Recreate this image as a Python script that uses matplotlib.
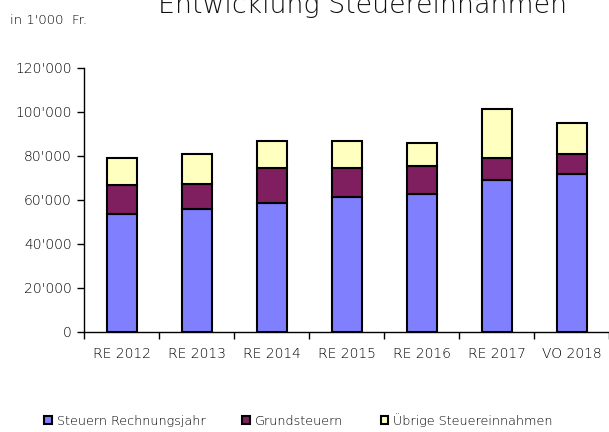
import matplotlib
matplotlib.use("Agg")
import matplotlib.pyplot as plt
from matplotlib.ticker import FuncFormatter
import numpy as np

categories = ["RE 2012", "RE 2013", "RE 2014", "RE 2015", "RE 2016", "RE 2017", "VO 2018"]
steuern_rj = [53600, 55900, 58800, 61400, 62700, 69200, 71800]
grundsteuern = [13100, 11500, 15700, 13100, 12700, 10000, 9100]
uebrige = [12300, 13500, 12300, 12300, 10600, 22100, 14000]
series_names = ["Steuern Rechnungsjahr", "Grundsteuern", "Übrige Steuereinnahmen"]
colors = ["#8080FF", "#7F1F5F", "#FFFFC0"]

plt.rcParams['font.family'] = ['DejaVu Sans']
plt.rcParams['font.weight'] = 'light'
TXT = "#000000"

fig = plt.figure(figsize=(6.09, 4.32), dpi=100)
ax = fig.add_axes([0.138, 0.2315, 0.862, 0.6115])

x = np.arange(len(categories))
bottom = np.zeros(len(categories))
handles = []
for vals, col, name in zip([steuern_rj, grundsteuern, uebrige], colors, series_names):
    h = ax.bar(x, vals, width=0.4, bottom=bottom, color=col, edgecolor="black",
               linewidth=1.5, label=name)
    handles.append(h)
    bottom += np.array(vals)

ax.set_xlim(-0.5, len(categories) - 0.5)
ax.set_ylim(0, 120000)
ax.set_yticks(np.arange(0, 120001, 20000))
ax.yaxis.set_major_formatter(FuncFormatter(lambda v, p: "0" if v == 0 else f"{int(v/1000)}'000"))
ax.set_xticks(x)
ax.set_xticklabels(categories)
ax.set_xticks(np.arange(-0.5, len(categories), 1), minor=True)
ax.tick_params(axis='x', which='major', length=0, pad=11, labelsize=10, labelcolor=TXT)
ax.tick_params(axis='x', which='minor', length=5, width=1, direction='out')
ax.tick_params(axis='y', length=5, width=1, direction='out', labelsize=10, pad=4, labelcolor=TXT)
for s in ["top", "right"]:
    ax.spines[s].set_visible(False)
ax.spines["left"].set_linewidth(1)
ax.spines["bottom"].set_linewidth(1)

fig.text(0.596, 1 - 13 / 432, "Entwicklung Steuereinnahmen", ha="center", va="baseline",
         fontsize=19.3, color="#111111")
fig.text(0.016, 0.954, "in 1'000  Fr.", ha="left", va="center", fontsize=9.5, color=TXT)

leg = fig.legend(handles=handles, labels=series_names, loc="center left", ncol=3,
                 bbox_to_anchor=(44 / 609, 1 - 420 / 432), frameon=False, fontsize=9.2,
                 handlelength=0.6, handleheight=0.6, handletextpad=0.4,
                 columnspacing=2.9, borderpad=0, borderaxespad=0)
for t in leg.get_texts():
    t.set_color(TXT)

fig.savefig("out.png", dpi=100)
